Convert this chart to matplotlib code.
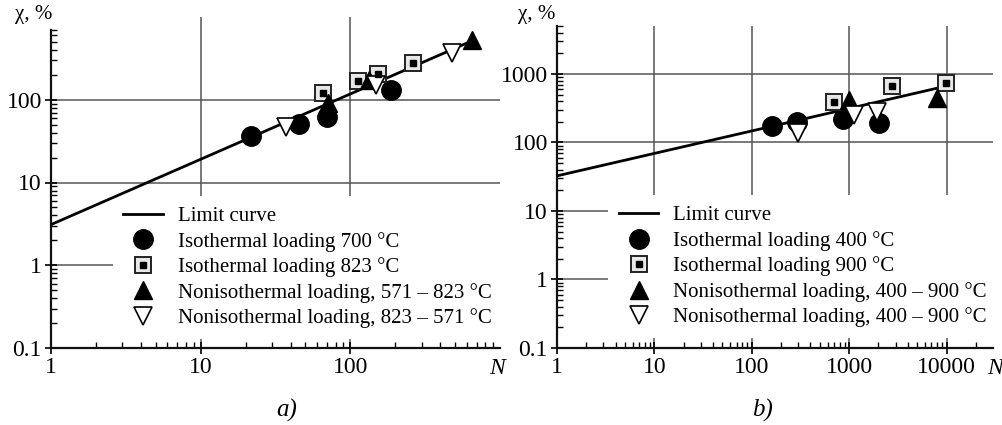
import matplotlib
matplotlib.use('Agg')
import matplotlib.pyplot as plt
from matplotlib.legend_handler import HandlerTuple
from matplotlib.ticker import FixedLocator, NullFormatter, FixedFormatter

plt.rcParams['font.family'] = ['Liberation Serif', 'DejaVu Serif']

# ---------------- data: panel a ----------------
limit_a_N = [1, 650]
limit_a_chi = [3.1, 515]
iso700_N = [21.7, 45.5, 70, 188]
iso700_chi = [36.8, 51.4, 62, 132]
iso823_N = [66, 113, 154, 261]
iso823_chi = [121, 169, 205, 279]
non571_823_N = [71, 134, 648]
non571_823_chi = [92, 174, 527]
non823_571_N = [37.2, 149, 476]
non823_571_chi = [47.3, 152, 368]
labels_a = ["Limit curve", "Isothermal loading 700 °C", "Isothermal loading 823 °C",
            "Nonisothermal loading, 571 – 823 °C", "Nonisothermal loading, 823 – 571 °C"]

# ---------------- data: panel b ----------------
limit_b_N = [1, 9100]
limit_b_chi = [32.5, 645]
iso400_N = [160, 290, 858, 2010]
iso400_chi = [174, 199, 220, 193]
iso900_N = [693, 2730, 9770]
iso900_chi = [390, 668, 740]
non400_900_up_N = [988, 7890]
non400_900_up_chi = [417, 447]
non400_900_dn_N = [296, 1112, 1950]
non400_900_dn_chi = [138, 252, 279]
labels_b = ["Limit curve", "Isothermal loading 400 °C", "Isothermal loading 900 °C",
            "Nonisothermal loading, 400 – 900 °C", "Nonisothermal loading, 400 – 900 °C"]

FS = 15
TFS = 17
GRID = '#555555'

fig = plt.figure(figsize=(10.03, 4.25), dpi=100)
W, H = 1003, 425


def add_ax(x0, x1, y0, y1):
    return fig.add_axes([x0 / W, 1 - y1 / H, (x1 - x0) / W, (y1 - y0) / H])


def style(ax, xlim, ylim, ytop_spine, xmaj, ymaj, xlab, ylab):
    ax.set_xscale('log')
    ax.set_yscale('log')
    ax.set_xlim(*xlim)
    ax.set_ylim(*ylim)
    for s in ['top', 'right']:
        ax.spines[s].set_visible(False)
    for s in ['left', 'bottom']:
        ax.spines[s].set_linewidth(1.6)
        ax.spines[s].set_color('#111111')
    ax.spines['left'].set_bounds(ylim[0], ytop_spine)
    ax.xaxis.set_major_locator(FixedLocator(xmaj))
    ax.xaxis.set_major_formatter(FixedFormatter(xlab))
    ax.yaxis.set_major_locator(FixedLocator(ymaj))
    ax.yaxis.set_major_formatter(FixedFormatter(ylab))
    xmin = [k * 10 ** e for e in range(0, 6) for k in range(2, 10) if k * 10 ** e < xlim[1]]
    ymin = [k * 10 ** e for e in range(-1, 4) for k in range(2, 10) if k * 10 ** e <= ytop_spine]
    ax.xaxis.set_minor_locator(FixedLocator(xmin))
    ax.yaxis.set_minor_locator(FixedLocator(ymin))
    ax.xaxis.set_minor_formatter(NullFormatter())
    ax.yaxis.set_minor_formatter(NullFormatter())
    ax.tick_params(which='major', direction='inout', length=9, width=1.2, labelsize=TFS, pad=2)
    ax.tick_params(which='minor', direction='in', length=4, width=1.0)
    ax.patch.set_visible(False)


def grid(ax, xs, ys):
    for x in xs:
        ax.axvline(x, color=GRID, lw=1.1, zorder=0)
    for y in ys:
        ax.axhline(y, color=GRID, lw=1.1, zorder=0)


def plot_panel(ax, lim, circ, sq, up, dn, labels, leg_anchor):
    ln, = ax.plot(lim[0], lim[1], color='black', lw=2.0, zorder=7)
    c, = ax.plot(circ[0], circ[1], 'o', ms=14, color='black', ls='none', zorder=8)
    s1, = ax.plot(sq[0], sq[1], 's', ms=11, mfc='#e8e8e8', mec='#222222', mew=1.4, ls='none', zorder=8)
    s2, = ax.plot(sq[0], sq[1], 's', ms=4.5, color='black', ls='none', zorder=9)
    t1, = ax.plot(up[0], up[1], '^', ms=13, color='black', ls='none', zorder=8)
    t2, = ax.plot(dn[0], dn[1], 'v', ms=13, mfc='white', mec='black', mew=1.2, ls='none', zorder=8)
    leg = ax.legend([ln, c, (s1, s2), t1, t2], labels, loc='upper left',
                    bbox_to_anchor=leg_anchor, fontsize=FS, frameon=True,
                    facecolor='white', edgecolor='none', framealpha=1, fancybox=False,
                    handlelength=1.9, handletextpad=0.7, labelspacing=0.27,
                    borderpad=0.5, borderaxespad=0,
                    handler_map={tuple: HandlerTuple(ndivide=1)})
    leg.set_zorder(6)


# ---------- panel a ----------
axa = add_ax(51, 500, 17, 348)
style(axa, (1, 1000), (0.1, 1000), 700, [1, 10, 100], [0.1, 1, 10, 100],
      ['1', '10', '100'], ['0.1', '1', '10', '100'])
grid(axa, [10, 100], [1, 10, 100])
plot_panel(axa, (limit_a_N, limit_a_chi), (iso700_N, iso700_chi), (iso823_N, iso823_chi),
           (non571_823_N, non571_823_chi), (non823_571_N, non823_571_chi), labels_a, (0.138, 0.459))
fig.text(15 / W, 1 - 15 / H, 'χ, %', fontsize=FS, ha='left', va='center')
fig.text(497 / W, 1 - 369 / H, 'N', fontsize=TFS, style='italic', ha='center', va='center')
fig.text(287 / W, 1 - 410 / H, 'a)', fontsize=TFS + 1, style='italic', ha='center', va='center')

# ---------- panel b ----------
axb = add_ax(557, 993, 26, 348)
style(axb, (1, 30000), (0.1, 5000), 5000, [1, 10, 100, 1000, 10000], [0.1, 1, 10, 100, 1000],
      ['1', '10', '100', '1000', '10000'], ['0.1', '1', '10', '100', '1000'])
grid(axb, [10, 100, 1000, 10000], [1, 10, 100, 1000])
plot_panel(axb, (limit_b_N, limit_b_chi), (iso400_N, iso400_chi), (iso900_N, iso900_chi),
           (non400_900_up_N, non400_900_up_chi), (non400_900_dn_N, non400_900_dn_chi), labels_b,
           (0.118, 0.474))
fig.text(518 / W, 1 - 15 / H, 'χ, %', fontsize=FS, ha='left', va='center')
fig.text(995 / W, 1 - 369 / H, 'N', fontsize=TFS, style='italic', ha='center', va='center')
fig.text(763 / W, 1 - 410 / H, 'b)', fontsize=TFS + 1, style='italic', ha='center', va='center')

fig.savefig('out.png', dpi=100, facecolor='white')
